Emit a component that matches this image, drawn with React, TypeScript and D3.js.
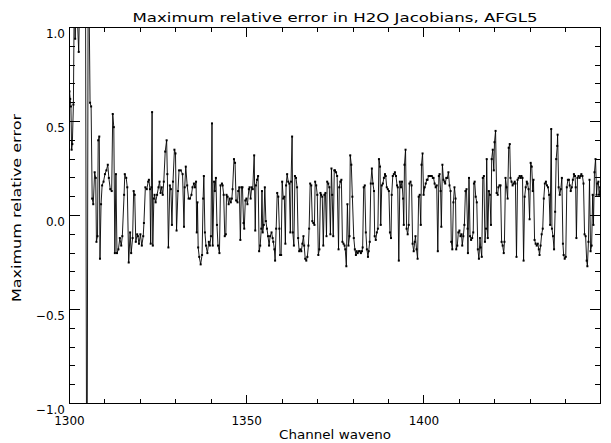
import React from 'react';
import * as d3 from 'd3';

// ---- data ----
const wavenoA = [
  1300.0, 1300.2, 1300.4, 1300.6, 1300.8, 1301.1, 1301.4, 1301.6, 1301.9, 1302.6,
  1303.0, 1303.8, 1304.5, 1304.9, 1305.3, 1305.8, 1306.1, 1306.4, 1306.7, 1307.1,
  1307.4, 1307.6, 1307.9, 1308.1, 1308.4, 1308.6, 1308.9, 1309.2, 1309.6, 1310.0,
  1310.4, 1310.8, 1311.1, 1311.5, 1311.9, 1312.2, 1312.5, 1312.8, 1313.1, 1313.4,
  1313.8, 1314.2, 1314.6, 1314.9, 1315.4,
];
const errA = [
  0.66, 0.62, 0.58, 0.35, 0.38, 0.59, 1.3, 0.94, 1.2, 0.87,
  1.3, 1.5, 1.4, -2.0, 1.6, 0.60, 0.58, 0.09, 0.06, 0.23,
  0.20, -0.14, -0.11, 0.40, 0.42, -0.23, 0.06, 0.16, 0.18, 0.22,
  0.24, 0.27, 0.20, 0.14, 0.13, 0.54, 0.47, -0.20, 0.22, -0.20,
  -0.18, -0.12, -0.16, -0.11, 0.11,
];
const wavenoB = [
  1315.6, 1316.0, 1316.3, 1316.7, 1317.1, 1317.4, 1317.8, 1318.1, 1318.4, 1318.7,
  1319.1, 1319.3, 1319.6, 1320.0, 1320.4, 1320.8, 1321.0, 1321.4, 1321.8, 1322.2,
  1322.4, 1322.7, 1322.9, 1323.1, 1323.3, 1323.5, 1323.8, 1324.0, 1324.3, 1324.7,
  1325.1, 1325.4, 1325.7, 1326.0, 1326.3, 1326.6, 1327.0, 1327.4, 1327.6, 1327.9,
  1328.3, 1328.6, 1328.9, 1329.2, 1329.6, 1329.9, 1330.2, 1330.6, 1330.9, 1331.4,
  1331.9, 1332.3, 1332.5, 1332.8, 1333.2, 1333.6,
];
const errB = [
  0.22, 0.20, 0.15, -0.25, -0.09, -0.20, -0.12, 0.13, 0.11, -0.14,
  -0.10, -0.11, -0.15, -0.10, -0.16, -0.11, -0.04, 0.15, 0.14, 0.18,
  0.19, 0.14, -0.15, 0.15, 0.55, -0.16, 0.09, 0.11, 0.07, 0.11,
  0.15, 0.18, 0.12, 0.15, 0.11, 0.18, 0.34, 0.40, 0.22, -0.17,
  0.16, 0.14, -0.05, 0.18, 0.35, 0.33, -0.08, 0.13, 0.24, 0.24,
  0.22, -0.06, 0.15, 0.26, 0.16, 0.09,
];
const wavenoC = [
  1334.0, 1334.4, 1334.7, 1335.1, 1335.4, 1335.7, 1335.9, 1336.1, 1336.3, 1336.6,
  1337.0, 1337.4, 1337.7, 1337.9, 1338.2, 1338.5, 1338.9, 1339.3, 1339.6, 1339.9,
  1340.2, 1340.4, 1340.8, 1341.0, 1341.3, 1341.6, 1341.9, 1342.3, 1342.6, 1343.0,
  1343.2, 1343.5, 1343.8, 1344.1, 1344.3, 1344.6, 1344.9, 1345.2, 1345.5, 1345.8,
  1346.0, 1346.4, 1346.7, 1347.0, 1347.4, 1347.6, 1347.9, 1348.2, 1348.5, 1348.8,
  1349.1, 1349.3, 1349.6, 1349.9, 1350.2, 1350.6, 1350.8, 1351.1, 1351.4, 1351.7,
  1352.1, 1352.4, 1352.6, 1352.9, 1353.2, 1353.5,
];
const errC = [
  0.09, 0.11, 0.15, 0.17, 0.15, 0.18, -0.09, 0.07, -0.17, -0.22,
  -0.26, -0.21, 0.09, 0.21, -0.09, -0.16, -0.20, -0.14, -0.16, -0.11,
  0.49, -0.16, 0.18, 0.13, 0.20, -0.05, -0.16, -0.20, 0.16, 0.17,
  0.16, 0.11, -0.11, -0.10, 0.11, 0.10, 0.06, 0.09, 0.07, 0.09,
  0.14, 0.30, 0.28, 0.08, 0.07, 0.13, 0.15, -0.13, 0.15, 0.15,
  -0.04, -0.07, 0.08, 0.09, 0.06, 0.14, 0.15, 0.09, 0.15, 0.14,
  0.32, -0.08, 0.16, 0.19, 0.21, -0.19,
];
const wavenoD = [
  1353.8, 1354.1, 1354.3, 1354.5, 1354.8, 1355.1, 1355.4, 1355.7, 1356.0, 1356.3,
  1356.6, 1357.0, 1357.3, 1357.5, 1357.8, 1358.0, 1358.3, 1358.6, 1358.9, 1359.2,
  1359.4, 1359.7, 1360.0, 1360.3, 1360.6, 1360.9, 1361.1, 1361.4, 1361.7, 1362.0,
  1362.3, 1362.5, 1362.8, 1363.0, 1363.3, 1363.6, 1363.9, 1364.2, 1364.5, 1364.8,
  1365.1, 1365.4, 1365.7, 1366.0, 1366.2, 1366.5, 1366.8, 1367.1, 1367.4, 1367.6,
  1367.9, 1368.2, 1368.5, 1368.8, 1369.1, 1369.3, 1369.6, 1369.9, 1370.2, 1370.5,
  1370.8, 1371.0, 1371.3, 1371.6, 1371.9, 1372.2, 1372.5, 1372.7, 1373.0, 1373.3,
  1373.6, 1373.9, 1374.1, 1374.4, 1374.7,
];
const errD = [
  -0.16, -0.07, 0.13, -0.09, -0.05, 0.15, -0.03, -0.07, -0.11, -0.16,
  -0.11, -0.09, -0.12, -0.14, -0.18, -0.24, -0.07, 0.12, 0.10, -0.07,
  -0.21, -0.21, 0.18, 0.09, 0.10, -0.15, 0.16, 0.22, 0.18, 0.17,
  -0.09, 0.18, 0.42, -0.09, -0.16, 0.21, 0.20, 0.15, -0.12, -0.19,
  -0.18, -0.19, -0.15, -0.11, -0.16, -0.23, -0.24, -0.22, -0.16, -0.07,
  0.17, 0.16, -0.03, -0.04, -0.05, 0.18, 0.16, 0.11, -0.21, -0.18,
  0.12, 0.11, 0.10, -0.16, 0.11, 0.12, -0.11, 0.18, 0.17, 0.15,
  -0.10, 0.25, 0.11, -0.11, 0.24,
];
const wavenoE = [
  1374.9, 1375.2, 1375.5, 1375.9, 1376.1, 1376.4, 1376.7, 1377.0, 1377.3, 1377.6,
  1377.8, 1378.1, 1378.4, 1378.7, 1379.0, 1379.2, 1379.5, 1379.8, 1380.2, 1380.5,
  1380.8, 1381.0, 1381.3, 1381.6, 1381.9, 1382.2, 1382.5, 1382.7, 1383.0, 1383.3,
  1383.6, 1383.9, 1384.2, 1384.4, 1384.7, 1385.0, 1385.3, 1385.6, 1385.9, 1386.1,
  1386.4, 1386.7, 1387.0, 1387.3, 1387.6, 1387.8, 1388.1, 1388.4, 1388.7, 1389.0,
  1389.2, 1389.5, 1389.8, 1390.1, 1390.4, 1390.7, 1390.9, 1391.2, 1391.5, 1391.8,
  1392.1, 1392.4, 1392.6, 1392.9, 1393.2, 1393.5, 1393.8, 1394.1, 1394.3, 1394.5,
];
const errE = [
  0.24, 0.23, 0.21, -0.18, 0.15, 0.18, 0.19, -0.14, -0.15, -0.16,
  -0.18, -0.27, 0.06, -0.16, -0.11, 0.32, 0.27, 0.10, -0.12, -0.18,
  -0.21, -0.19, -0.20, -0.19, -0.19, -0.20, -0.19, -0.17, 0.15, 0.16,
  -0.09, -0.18, -0.22, -0.19, -0.14, 0.17, 0.25, 0.17, 0.13, -0.11,
  -0.13, -0.09, -0.07, 0.30, 0.26, -0.05, 0.16, 0.17, 0.20, 0.22,
  0.21, 0.15, 0.14, 0.13, -0.09, -0.12, 0.11, 0.21, 0.22, 0.23,
  0.21, 0.16, 0.15, -0.24, 0.18, 0.15, 0.18, 0.09, -0.05, 0.27,
];
const wavenoF = [
  1394.8, 1395.1, 1395.4, 1395.7, 1395.9, 1396.2, 1396.5, 1396.8, 1397.1, 1397.4,
  1397.6, 1397.9, 1398.2, 1398.5, 1398.8, 1399.1, 1399.3, 1399.6, 1399.9, 1400.2,
  1400.5, 1400.8, 1401.0, 1401.3, 1401.6, 1401.9, 1402.2, 1402.5, 1402.7, 1403.0,
  1403.3, 1403.6, 1403.9, 1404.2, 1404.4, 1404.7, 1404.9, 1405.2, 1405.5, 1405.8,
  1406.0, 1406.3, 1406.6, 1406.9, 1407.2, 1407.5, 1407.7, 1408.0, 1408.3, 1408.6,
  1408.9, 1409.1, 1409.4, 1409.7, 1410.0, 1410.3, 1410.6, 1410.8, 1411.1, 1411.4,
  1411.7, 1412.0, 1412.3, 1412.4, 1412.7, 1413.0, 1413.3, 1413.6, 1413.9, 1414.1,
  1414.3,
];
const errF = [
  0.35, -0.07, -0.10, -0.05, 0.17, 0.18, 0.16, -0.15, -0.19, -0.14,
  -0.11, -0.18, -0.23, 0.10, 0.11, -0.05, 0.27, 0.33, 0.11, 0.15,
  0.17, 0.19, 0.19, 0.21, 0.21, 0.21, 0.21, 0.20, 0.20, 0.17,
  0.15, 0.16, -0.19, 0.21, 0.22, 0.13, -0.06, 0.27, 0.19, 0.18,
  0.17, 0.20, 0.20, 0.23, 0.16, 0.13, -0.14, -0.18, 0.07, 0.15,
  0.09, -0.18, -0.16, -0.09, -0.08, -0.11, -0.10, -0.16, -0.11, -0.05,
  0.13, 0.14, -0.07, -0.20, 0.20, -0.11, -0.13, -0.12, -0.09, 0.17,
  0.18,
];
const wavenoG = [
  1414.6, 1414.9, 1415.2, 1415.5, 1415.8, 1416.0, 1416.3, 1416.6, 1416.9, 1417.2,
  1417.5, 1417.7, 1418.0, 1418.3, 1418.6, 1418.9, 1419.1, 1419.4, 1419.7, 1419.9,
  1420.2, 1420.5, 1420.8, 1421.0, 1421.3, 1421.6, 1421.9, 1422.2, 1422.5, 1422.7,
  1423.0, 1423.3, 1423.6, 1423.9, 1424.2, 1424.4, 1424.7, 1425.0, 1425.3, 1425.6,
  1425.8, 1426.1, 1426.4, 1426.7, 1427.0, 1427.3, 1427.5, 1427.8, 1428.1, 1428.4,
  1428.7, 1429.0, 1429.2, 1429.5, 1429.8, 1430.1, 1430.4, 1430.7, 1430.9, 1431.2,
  1431.5, 1431.8, 1432.1, 1432.4, 1432.6, 1432.9, 1433.2, 1433.5, 1433.8, 1434.1,
];
const errG = [
  0.10, 0.07, -0.18, -0.23, -0.12, -0.17, -0.22, 0.20, 0.21, -0.14,
  -0.07, 0.30, -0.12, 0.13, 0.11, -0.05, 0.30, 0.35, 0.24, 0.39,
  0.45, 0.12, 0.11, 0.15, 0.16, 0.16, -0.14, -0.16, -0.20, -0.14,
  0.20, 0.15, 0.09, 0.36, 0.38, 0.20, 0.18, 0.16, 0.17, 0.18,
  0.17, -0.22, 0.19, 0.20, 0.21, 0.20, 0.21, 0.20, -0.24, 0.10,
  0.15, 0.18, 0.17, 0.14, -0.02, 0.28, 0.26, 0.13, 0.19, -0.13,
  -0.15, -0.16, -0.15, -0.18, -0.21, -0.16, -0.10, -0.07, 0.09, 0.17,
];
const wavenoH = [
  1434.4, 1434.7, 1435.0, 1435.3, 1435.6, 1435.9, 1436.1, 1436.4, 1436.7, 1437.0,
  1437.3, 1437.6, 1437.7, 1438.0, 1438.3, 1438.6, 1438.9, 1439.2, 1439.4, 1439.7,
  1440.0, 1440.3, 1440.6, 1440.9, 1441.1, 1441.4, 1441.7, 1442.0, 1442.3, 1442.6,
  1442.8, 1443.0, 1443.3, 1443.6, 1443.9, 1444.2, 1444.4, 1444.7, 1445.0, 1445.3,
  1445.6, 1445.9, 1446.1, 1446.4, 1446.7, 1447.0, 1447.3, 1447.6, 1447.8, 1448.1,
  1448.4, 1448.7, 1448.9, 1449.2, 1449.4, 1449.7,
];
const errH = [
  0.18, 0.16, 0.15, 0.11, -0.05, 0.46, -0.07, -0.11, -0.18, 0.02,
  0.30, 0.37, 0.43, 0.15, 0.11, 0.14, 0.20, -0.15, -0.21, -0.23,
  -0.22, 0.15, 0.19, 0.19, 0.16, 0.13, 0.15, 0.19, 0.22, 0.21,
  0.15, -0.12, 0.20, 0.21, 0.20, 0.21, 0.22, 0.21, 0.17, -0.10,
  -0.11, -0.24, -0.27, -0.14, 0.19, -0.19, -0.16, 0.11, -0.05, 0.23,
  0.30, 0.11, 0.17, 0.18, 0.11, 0.15,
];

const waveno = [...wavenoA, ...wavenoB, ...wavenoC, ...wavenoD, ...wavenoE, ...wavenoF, ...wavenoG, ...wavenoH];
const relErr = [...errA, ...errB, ...errC, ...errD, ...errE, ...errF, ...errG, ...errH];

const xMajorTicks = [1300, 1350, 1400];
const xMinorTicks = [1310, 1320, 1330, 1340, 1360, 1370, 1380, 1390, 1410, 1420, 1430, 1440];
const yMajorTicks = [-1.0, -0.5, 0.0, 0.5, 1.0];
const yMinorTicks = [-0.9, -0.8, -0.7, -0.6, -0.4, -0.3, -0.2, -0.1, 0.1, 0.2, 0.3, 0.4, 0.6, 0.7, 0.8, 0.9];
const yTickLabels = ['\u22121.0', '\u22120.5', '0.0', '0.5', '1.0'];

const TITLE = 'Maximum relative error in H2O Jacobians, AFGL5';
const XLABEL = 'Channel waveno';
const YLABEL = 'Maximum relative error';

const W = 611;
const H = 443;
const L = 69.5, R = 600.5, T = 27.5, B = 403.5;
const FONT = '"DejaVu Sans", sans-serif';

export default function App() {
  const x = d3.scaleLinear().domain([1300, 1449.8]).range([L, R]);
  const y = d3.scaleLinear().domain([-1, 1]).range([B, T]);
  const n = Math.min(waveno.length, relErr.length);
  const pts: [number, number][] = [];
  for (let i = 0; i < n; i++) pts.push([waveno[i], relErr[i]]);
  const line = d3.line<[number, number]>().x(d => x(d[0])).y(d => y(d[1]));
  const inside = pts.filter(d => d[1] >= -1 && d[1] <= 1);

  const xMajLen = 9, xMinLen = 4.5, yMajLen = 10.5, yMinLen = 5.3;

  return (
    <svg width={W} height={H} style={{ position: 'absolute', left: 0, top: 0, background: '#fff' }}
      xmlns="http://www.w3.org/2000/svg">
      <rect x={0} y={0} width={W} height={H} fill="#fff" />
      <defs>
        <clipPath id="plotclip">
          <rect x={L} y={T} width={R - L} height={B - T} />
        </clipPath>
      </defs>
      <g clipPath="url(#plotclip)">
        <path d={line(pts) || ''} fill="none" stroke="#000" strokeWidth={0.9} strokeLinejoin="miter" />
        {inside.map((d, i) => (
          <rect key={i} x={x(d[0]) - 1} y={y(d[1]) - 1} width={2} height={2} fill="#000" />
        ))}
      </g>
      <g stroke="#000" strokeWidth={1} shapeRendering="crispEdges" fill="none">
        <rect x={L} y={T} width={R - L} height={B - T} />
        {xMajorTicks.map(t => (
          <g key={'xM' + t}>
            <line x1={x(t)} x2={x(t)} y1={B} y2={B - xMajLen} />
            <line x1={x(t)} x2={x(t)} y1={T} y2={T + xMajLen} />
          </g>
        ))}
        {xMinorTicks.map(t => (
          <g key={'xm' + t}>
            <line x1={x(t)} x2={x(t)} y1={B} y2={B - xMinLen} />
            <line x1={x(t)} x2={x(t)} y1={T} y2={T + xMinLen} />
          </g>
        ))}
        {yMajorTicks.map(t => (
          <g key={'yM' + t}>
            <line x1={L} x2={L + yMajLen} y1={y(t)} y2={y(t)} />
            <line x1={R} x2={R - yMajLen} y1={y(t)} y2={y(t)} />
          </g>
        ))}
        {yMinorTicks.map(t => (
          <g key={'ym' + t}>
            <line x1={L} x2={L + yMinLen} y1={y(t)} y2={y(t)} />
            <line x1={R} x2={R - yMinLen} y1={y(t)} y2={y(t)} />
          </g>
        ))}
      </g>
      <g fontFamily={FONT} fill="#000">
        {xMajorTicks.map(t => (
          <text key={'xl' + t} x={x(t)} y={425} fontSize={12} textAnchor="middle">{String(t)}</text>
        ))}
        {yMajorTicks.map((t, i) => (
          <text key={'yl' + t} x={65} y={y(t) + 10} fontSize={12} textAnchor="end">{yTickLabels[i]}</text>
        ))}
        <text x={(L + R) / 2} y={22} fontSize={13} textAnchor="middle" textLength={405} lengthAdjust="spacingAndGlyphs">{TITLE}</text>
        <text x={(L + R) / 2} y={439} fontSize={12.5} textAnchor="middle" textLength={112} lengthAdjust="spacingAndGlyphs">{XLABEL}</text>
        <text transform={`translate(20.5, 208) rotate(-90)`} fontSize={12.5} textAnchor="middle" textLength={188} lengthAdjust="spacingAndGlyphs">{YLABEL}</text>
      </g>
    </svg>
  );
}
